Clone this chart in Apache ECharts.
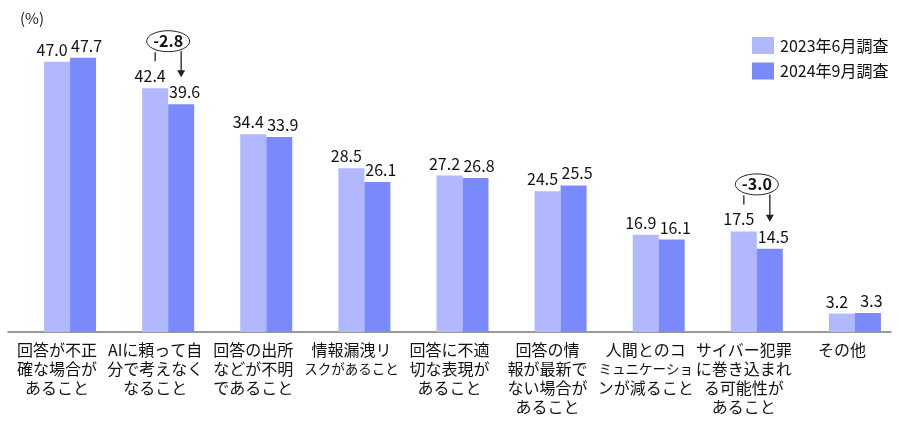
<!DOCTYPE html>
<html>
<head>
<meta charset="utf-8">
<title></title>
<style type="text/css">
	* {
		margin: 0;
		padding: 0;
	}

	#chart {
		width: 900px;
		height: 428px;
	}
</style>
<script src="https://cdn.jsdelivr.net/npm/echarts@6/dist/echarts.min.js"></script>
</head>
<body>
<div id="chart"></div>
<script type="text/javascript">
	var categories = [
		'回答が不正\n確な場合が\nあること',
		'AIに頼って自\n分で考えなく\nなること',
		'回答の出所\nなどが不明\nであること',
		'情報漏洩リ\nスクがあること',
		'回答に不適\n切な表現が\nあること',
		'回答の情\n報が最新で\nない場合が\nあること',
		'人間とのコ\nミュニケーショ\nンが減ること',
		'サイバー犯罪\nに巻き込まれ\nる可能性が\nあること',
		'その他'
	];
	var seriesNames = ['2023年6月調査', '2024年9月調査'];
	var survey2023 = [47.0, 42.4, 34.4, 28.5, 27.2, 24.5, 16.9, 17.5, 3.2];
	var survey2024 = [47.7, 39.6, 33.9, 26.1, 26.8, 25.5, 16.1, 14.5, 3.3];
	// 差分の吹き出し
	var diffIndex = [1, 7];
	var diffLabels = ['-2.8', '-3.0'];

	var FONT = '"Noto Sans CJK JP", "Noto Sans", sans-serif';
	var chart = echarts.init(document.getElementById('chart'));

	function valueLabel(dx) {
		return {
			show: true,
			position: 'top',
			distance: 4,
			offset: [dx, 0],
			fontSize: 16,
			color: '#111',
			formatter: function (p) {
				return p.value.toFixed(1);
			}
		};
	}

	// 長いかな行は少し詰めて表示
	function catLabel(v) {
		return v.split('\n').map(function (line) {
			return line.length > 6 && /^[^A-Za-z]/.test(line) ? '{n|' + line + '}' : '{w|' + line + '}';
		}).join('\n');
	}

	var option = {
		animation: false,
		textStyle: { fontFamily: FONT },
		title: {
			text: '(%)',
			left: 15,
			top: 6,
			textStyle: { fontSize: 15, fontWeight: 'normal', color: '#222', fontFamily: FONT }
		},
		legend: {
			data: seriesNames,
			orient: 'vertical',
			left: 747,
			top: 32,
			itemWidth: 22,
			itemHeight: 17,
			itemGap: 8.5,
			icon: 'rect',
			textStyle: { fontSize: 16, color: '#111', padding: [0, 0, 0, 1] }
		},
		grid: {
			left: 8,
			right: 9,
			top: 44.5,
			bottom: 96
		},
		xAxis: {
			type: 'category',
			data: categories,
			axisTick: { show: false },
			axisLine: { lineStyle: { color: '#7a7a7a', width: 1.5 } },
			axisLabel: {
				interval: 0,
				color: '#111',
				margin: 8,
				formatter: catLabel,
				rich: {
					w: { fontSize: 16, lineHeight: 19, color: '#111', fontFamily: FONT },
					n: { fontSize: 13.5, lineHeight: 19, color: '#111', fontFamily: FONT }
				}
			}
		},
		yAxis: {
			type: 'value',
			min: 0,
			max: 50,
			show: false
		},
		series: [{
			// 位置合わせ用の空系列
			name: 'spacer',
			type: 'bar',
			data: [],
			barWidth: 26,
			barGap: '0%',
			silent: true
		}, {
			name: seriesNames[0],
			type: 'bar',
			data: survey2023,
			barWidth: 26,
			barGap: '0%',
			itemStyle: { color: '#b1b8fd' },
			label: valueLabel(-5)
		}, {
			name: seriesNames[1],
			type: 'bar',
			data: survey2024,
			barWidth: 26,
			barGap: '0%',
			itemStyle: { color: '#7a8afd' },
			label: valueLabel(3.5)
		}]
	};
	chart.setOption(option);

	var graphics = [];
	diffIndex.forEach(function (idx, k) {
		var p1 = chart.convertToPixel({ gridIndex: 0 }, [idx, survey2023[idx]]);
		var p2 = chart.convertToPixel({ gridIndex: 0 }, [idx, survey2024[idx]]);
		var x1 = p1[0];
		var x2 = p1[0] + 26;
		var mid = p1[0] + 13;
		var stroke = { stroke: '#222', lineWidth: 1.3 };
		graphics.push({
			type: 'line',
			shape: { x1: x1, y1: p1[1] - 36, x2: x1, y2: p1[1] - 27 },
			style: stroke
		});
		graphics.push({
			type: 'line',
			shape: { x1: x2, y1: p1[1] - 37, x2: x2, y2: p2[1] - 32 },
			style: stroke
		});
		graphics.push({
			type: 'polygon',
			shape: { points: [[x2 - 4, p2[1] - 34], [x2 + 4, p2[1] - 34], [x2, p2[1] - 27]] },
			style: { fill: '#222' }
		});
		graphics.push({
			type: 'ellipse',
			shape: { cx: mid, cy: p1[1] - 47, rx: 21.5, ry: 10.5 },
			style: { fill: '#fff', stroke: '#222', lineWidth: 1 }
		});
		graphics.push({
			type: 'text',
			style: {
				text: diffLabels[k],
				x: mid,
				y: p1[1] - 47,
				align: 'center',
				verticalAlign: 'middle',
				fontSize: 16,
				fontWeight: 'bold',
				fontFamily: FONT,
				fill: '#111'
			}
		});
	});
	chart.setOption({ graphic: graphics });
</script>
</body>
</html>
